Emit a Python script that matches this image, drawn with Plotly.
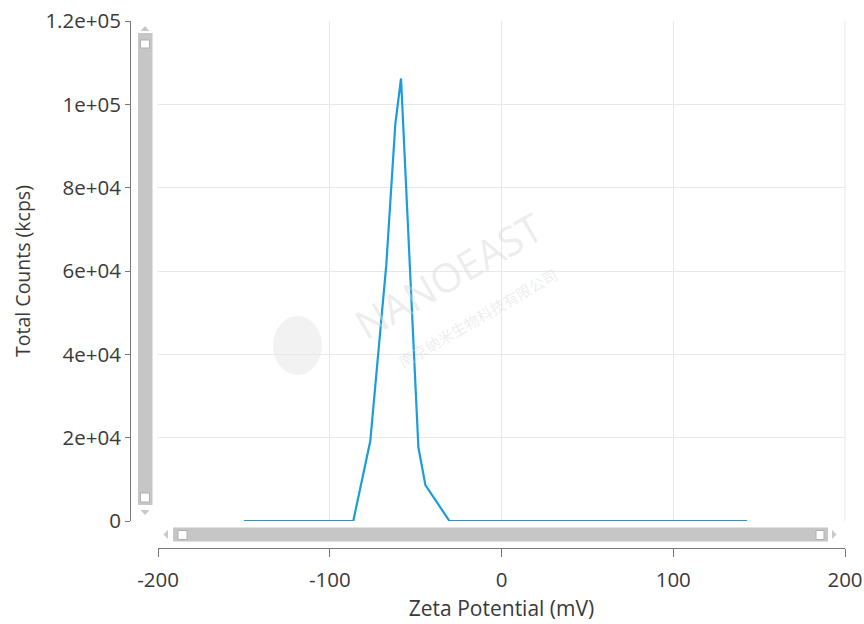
import plotly.graph_objects as go

# Data
zeta_mv = [-150, -86.3, -76.4, -67.1, -61.8, -58.5, -48.4, -44.3, -30.3, 143]
total_counts = [0, 0, 19200, 61400, 95400, 106200, 17700, 8600, 0, 0]

x_tickvals = [-200, -100, 0, 100, 200]
x_ticktext = ["-200", "-100", "0", "100", "200"]
y_tickvals = [0, 20000, 40000, 60000, 80000, 100000, 120000]
y_ticktext = ["0", "2e+04", "4e+04", "6e+04", "8e+04", "1e+05", "1.2e+05"]

W, H = 864, 624
L, R, T, B = 130, 19, 21, 76
PW, PH = W - L - R, H - T - B

def px(x):
    return (x - L) / PW

def py(y):
    return (H - B - y) / PH

fig = go.Figure()
fig.add_trace(go.Scatter(
    x=zeta_mv, y=total_counts, mode="lines",
    line=dict(color="#1b9ddb", width=2.2),
    hoverinfo="x+y", showlegend=False,
))

tick_font = dict(family="Open Sans, Noto Sans, sans-serif", size=20.5, color="#3a3a3a")
xtitle_font = dict(family="Open Sans, Noto Sans, sans-serif", size=21, color="#3a3a3a")
ytitle_font = dict(family="Open Sans, Noto Sans, sans-serif", size=19.5, color="#3a3a3a")

fig.update_layout(
    width=W, height=H,
    margin=dict(l=L, r=R, t=T, b=B, pad=0),
    paper_bgcolor="white", plot_bgcolor="white",
    font=tick_font,
    xaxis=dict(
        domain=[px(158), 1], range=[-200, 200],
        anchor="free", position=0, automargin=False,
        tickmode="array", tickvals=x_tickvals, ticktext=x_ticktext,
        showgrid=True, gridcolor="#e8e8e8", gridwidth=1,
        zeroline=False, showline=True, linecolor="#777777", linewidth=1,
        ticks="outside", ticklen=8, tickcolor="#777777",
        ticklabelstandoff=5,
        title=dict(text="Zeta Potential (mV)", standoff=9, font=xtitle_font),
        tickfont=tick_font,
    ),
    yaxis=dict(
        domain=[py(521), 1], range=[0, 120000],
        anchor="free", position=0, automargin=False,
        tickmode="array", tickvals=y_tickvals, ticktext=y_ticktext,
        showgrid=True, gridcolor="#e8e8e8", gridwidth=1,
        zeroline=False, showline=True, linecolor="#777777", linewidth=1,
        ticks="outside", ticklen=5, tickcolor="#777777",
        ticklabelstandoff=0,
        title=dict(text="Total Counts (kcps)", standoff=8, font=ytitle_font),
        tickfont=tick_font,
    ),
)

shapes = []
# right frame line of plot area
shapes.append(dict(type="line", xref="paper", yref="paper",
                   x0=px(845), x1=px(845), y0=py(521), y1=py(21),
                   line=dict(color="#e8e8e8", width=1)))
# vertical scrollbar
shapes.append(dict(type="rect", xref="paper", yref="paper",
                   x0=px(138), x1=px(152.5), y0=py(505), y1=py(33),
                   fillcolor="#c6c6c6", line=dict(width=0)))
for (y0, y1) in [(40, 48), (493, 502)]:
    shapes.append(dict(type="rect", xref="paper", yref="paper",
                       x0=px(140.5), x1=px(149.5), y0=py(y1), y1=py(y0),
                       fillcolor="white", line=dict(color="#b0b0b0", width=1)))
shapes.append(dict(type="path", xref="paper", yref="paper",
                   path=f"M {px(140.5)} {py(31)} L {px(149.5)} {py(31)} L {px(145)} {py(26)} Z",
                   fillcolor="#c8c8c8", line=dict(width=0)))
shapes.append(dict(type="path", xref="paper", yref="paper",
                   path=f"M {px(140.5)} {py(510)} L {px(149.5)} {py(510)} L {px(145)} {py(515)} Z",
                   fillcolor="#c8c8c8", line=dict(width=0)))
# horizontal scrollbar
shapes.append(dict(type="rect", xref="paper", yref="paper",
                   x0=px(173), x1=px(828), y0=py(541.5), y1=py(527.5),
                   fillcolor="#c6c6c6", line=dict(width=0)))
for (x0, x1) in [(178, 187), (816, 824)]:
    shapes.append(dict(type="rect", xref="paper", yref="paper",
                       x0=px(x0), x1=px(x1), y0=py(539.5), y1=py(530.5),
                       fillcolor="white", line=dict(color="#b0b0b0", width=1)))
shapes.append(dict(type="path", xref="paper", yref="paper",
                   path=f"M {px(168)} {py(530)} L {px(168)} {py(539)} L {px(163.5)} {py(534.5)} Z",
                   fillcolor="#c8c8c8", line=dict(width=0)))
shapes.append(dict(type="path", xref="paper", yref="paper",
                   path=f"M {px(832)} {py(530)} L {px(832)} {py(539)} L {px(836.5)} {py(534.5)} Z",
                   fillcolor="#c8c8c8", line=dict(width=0)))
# faint watermark logo circle
shapes.append(dict(type="circle", xref="paper", yref="paper",
                   x0=px(273), x1=px(322), y0=py(375), y1=py(316),
                   fillcolor="rgba(226,226,226,0.45)", line=dict(width=0),
                   layer="below"))
fig.update_layout(shapes=shapes)

fig.add_annotation(
    text="NANOEAST", xref="paper", yref="paper",
    x=px(448), y=py(275), showarrow=False, textangle=-30,
    font=dict(family="Open Sans, sans-serif", size=40, color="rgba(215,215,215,0.45)"),
)
fig.add_annotation(
    text="南京纳米生物科技有限公司", xref="paper", yref="paper",
    x=px(478), y=py(318), showarrow=False, textangle=-30,
    font=dict(family="Noto Sans CJK SC, sans-serif", size=15, color="rgba(215,215,215,0.45)"),
)

fig.write_html(
    "out.html",
    config={"displayModeBar": False},
    post_script="document.body.style.margin='0';document.body.style.overflow='hidden';",
)
